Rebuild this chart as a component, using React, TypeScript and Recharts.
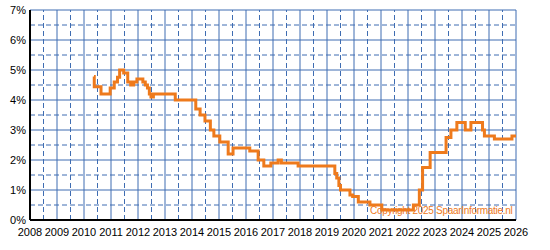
import {
  LineChart,
  Line,
  XAxis,
  YAxis,
  CartesianGrid,
  ReferenceLine,
} from 'recharts';

// change points of the rate (step line, value holds until next point)
const YEARS = [
  2010.37, 2010.38, 2010.63, 2010.97, 2011.12, 2011.24, 2011.32, 2011.47, 2011.62, 2011.73,
  2011.84, 2011.96, 2012.18, 2012.27, 2012.35, 2012.42, 2012.48, 2012.57, 2013.38, 2014.14,
  2014.3, 2014.48, 2014.68, 2014.81, 2015.03, 2015.34, 2015.52, 2016.14, 2016.45, 2016.66,
  2016.92, 2017.19, 2017.31, 2017.93, 2019.29, 2019.36, 2019.44, 2019.5, 2019.85, 2019.95,
  2020.16, 2020.59, 2021.03, 2022.2, 2022.42, 2022.54, 2022.82, 2023.41, 2023.59, 2023.81,
  2024.12, 2024.33, 2024.76, 2024.83, 2025.2, 2025.85, 2026,
];
const RATES = [
  4.78, 4.44, 4.2, 4.4, 4.6, 4.76, 5.0, 4.9, 4.6, 4.5,
  4.6, 4.7, 4.6, 4.5, 4.4, 4.2, 4.1, 4.2, 4.0, 3.7,
  3.5, 3.3, 3.0, 2.8, 2.6, 2.2, 2.4, 2.3, 2.0, 1.8,
  1.9, 2.0, 1.9, 1.8, 1.55, 1.4, 1.15, 1.0, 0.83, 0.78,
  0.6, 0.5, 0.33, 0.5, 1.0, 1.75, 2.25, 2.75, 3.0, 3.25,
  3.0, 3.25, 3.0, 2.8, 2.7, 2.8, 2.8,
];

const YEAR_TICKS = [
  2008, 2009, 2010, 2011, 2012, 2013, 2014, 2015, 2016, 2017,
  2018, 2019, 2020, 2021, 2022, 2023, 2024, 2025, 2026,
];
const RATE_TICKS = [0, 1, 2, 3, 4, 5, 6, 7];
const HALF_YEARS = YEAR_TICKS.slice(0, -1).map((y) => y + 0.5);
const HALF_RATES = RATE_TICKS.slice(0, -1).map((r) => r + 0.5);

const GRID = '#3f6db2';
const ORANGE = '#ee7a1c';
const FONT = "'Liberation Sans', Arial, sans-serif";

const data = YEARS.map((year, i) => ({ year, rate: RATES[i] }));

export default function App() {
  return (
    <div style={{ position: 'fixed', left: 0, top: 0, width: 550, height: 250, background: '#fff' }}>
      <LineChart
        width={550}
        height={250}
        data={data}
        margin={{ top: 10, right: 34, bottom: 0, left: 0 }}
      >
        <CartesianGrid stroke={GRID} strokeWidth={1} />
        {HALF_YEARS.map((x) => (
          <ReferenceLine key={'x' + x} x={x} stroke={GRID} strokeDasharray="5 3" />
        ))}
        {HALF_RATES.map((y) => (
          <ReferenceLine key={'y' + y} y={y} stroke={GRID} strokeDasharray="5 3" />
        ))}
        <XAxis
          dataKey="year"
          type="number"
          domain={[2008, 2026]}
          ticks={YEAR_TICKS}
          interval={0}
          height={30}
          tickLine={false}
          axisLine={{ stroke: '#000', strokeWidth: 2 }}
          tick={{ fill: '#000', fontSize: 11, fontFamily: FONT }}
        />
        <YAxis
          type="number"
          domain={[0, 7]}
          ticks={RATE_TICKS}
          interval={0}
          width={30}
          tickLine={false}
          tickSize={2}
          tickMargin={2}
          tickFormatter={(v: number) => `${v}%`}
          axisLine={{ stroke: '#000', strokeWidth: 2 }}
          tick={{ fill: '#000', fontSize: 11, fontFamily: FONT }}
        />
        <Line
          type="stepAfter"
          dataKey="rate"
          stroke={ORANGE}
          strokeWidth={3}
          dot={false}
          isAnimationActive={false}
        />
      </LineChart>
      <div
        style={{
          position: 'absolute',
          left: 370,
          top: 206,
          fontFamily: FONT,
          fontSize: 10,
          lineHeight: '10px',
          letterSpacing: -0.3,
          color: ORANGE,
          whiteSpace: 'nowrap',
        }}
      >
        Copyright 2025 SpaarInformatie.nl
      </div>
    </div>
  );
}
